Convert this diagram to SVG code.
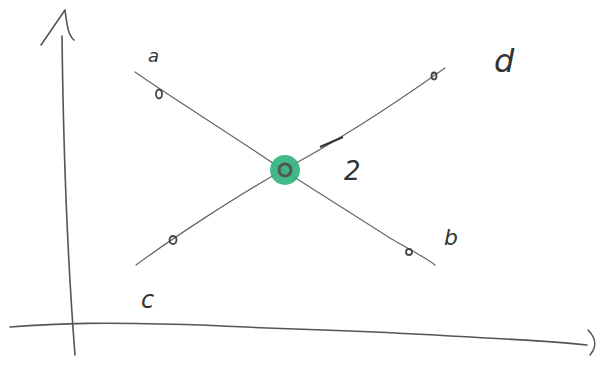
<svg xmlns="http://www.w3.org/2000/svg" width="612" height="371" viewBox="0 0 612 371">
<style>
.ax{fill:none;stroke:#555;stroke-width:1.6;stroke-linecap:round;stroke-linejoin:round}
.ln{fill:none;stroke:#666;stroke-width:1.2;stroke-linecap:round}
.pt{fill:none;stroke:#444;stroke-width:1.8}
.lb{font-family:"DejaVu Sans","Liberation Sans",sans-serif;fill:#333;font-style:italic}
</style>
<rect width="612" height="371" fill="#fff"/>
<g id="axes">
<path class="ax" d="M62,36 C63,120 66,240 75,355"/>
<path class="ax" d="M41,45 L65,10 C67,25 68,35 74,40"/>
<path class="ax" d="M10,327 C60,323 100,322 200,325 C300,330 350,330 450,336 C510,339 560,342 587,345"/>
<path class="ax" d="M588,330 C596,338 597,347 590,355"/>
</g>
<g id="connectors">
<path class="ln" d="M135,72 C175,100 240,140 283,170 C330,200 370,225 390,238 C410,250 425,257 435,265"/>
<path class="ln" d="M136,265 C170,240 230,200 283,170 C340,140 400,100 445,68"/>
<path d="M320,147 L343,137" stroke="#333" stroke-width="2" fill="none"/>
</g>
<g id="node-a"><ellipse class="pt" cx="159" cy="94" rx="3" ry="4.5"/><text class="lb" x="148" y="62" font-size="18">a</text></g>
<g id="node-b"><ellipse class="pt" cx="409" cy="252" rx="3" ry="3"/><text class="lb" x="444" y="245" font-size="22">b</text></g>
<g id="node-c"><ellipse class="pt" cx="173" cy="240" rx="3.5" ry="4"/><text class="lb" x="141" y="308" font-size="24">c</text></g>
<g id="node-d"><ellipse class="pt" cx="434" cy="76" rx="2.5" ry="3.5"/><text class="lb" x="494" y="72" font-size="32">d</text></g>
<g id="node-center"><circle cx="285" cy="170" r="15" fill="#2db37a" opacity="0.9"/><circle cx="285" cy="170" r="6" fill="none" stroke="#555" stroke-width="3"/></g>
<g id="label-2"><text class="lb" x="344" y="180" font-size="26">2</text></g>
</svg>
